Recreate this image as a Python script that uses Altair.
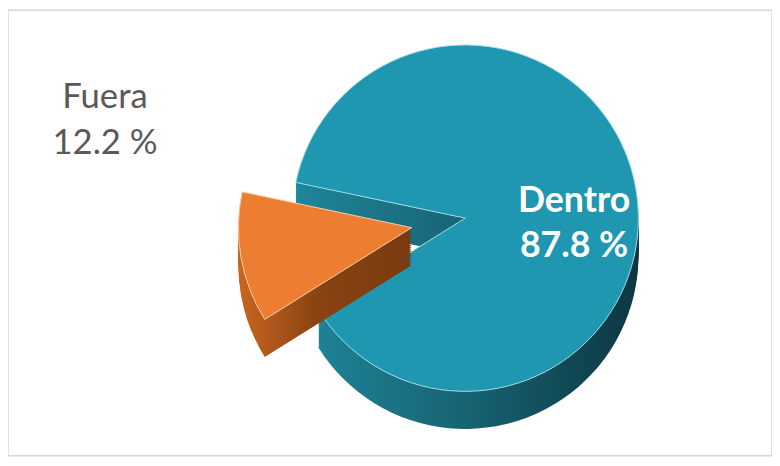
import math
import altair as alt
import pandas as pd

# ---- data ----
categories = ["Fuera", "Dentro"]
values = [12.2, 87.8]
stack_order = [0, 1]

df = pd.DataFrame({"cat": categories, "val": values, "idx": stack_order})

# ---- layout ----
W, H = 772, 450
CX, CY = 462, 210          # pie centre (view coords)
R = 175                    # radius
DEPTH = 38                 # thickness of the "3D" side
START = math.radians(238)  # where the first slice starts (clockwise from top)
EXPLODE = 55               # pull-out distance of the Fuera slice

total = sum(values)
mid_fuera = START + (values[0] / total) * math.pi
FX = CX + EXPLODE * math.sin(mid_fuera)
FY = CY - EXPLODE * math.cos(mid_fuera)

theta = alt.Theta("val:Q", stack=True,
                  scale=alt.Scale(range=[START, START + 2 * math.pi]))
base = alt.Chart(df).encode(theta=theta, order=alt.Order("idx:Q", sort="ascending"))


def only(cat):
    return alt.condition(f"datum.cat == '{cat}'", alt.value(1), alt.value(0))


teal_side = alt.LinearGradient(
    gradient="linear", x1=0, x2=1, y1=0, y2=0,
    stops=[alt.GradientStop(color="#1f869b", offset=0),
           alt.GradientStop(color="#176372", offset=0.5),
           alt.GradientStop(color="#0d3642", offset=1)])
orange_side = alt.LinearGradient(
    gradient="linear", x1=0, x2=1, y1=0, y2=0,
    stops=[alt.GradientStop(color="#c96620", offset=0),
           alt.GradientStop(color="#8a4312", offset=0.45),
           alt.GradientStop(color="#7a3a10", offset=1)])

layers = []
# Dentro side
for k in range(DEPTH, 0, -2):
    layers.append(base.mark_arc(radius=R, fill=teal_side).encode(
        x=alt.value(CX), y=alt.value(CY + k), opacity=only("Dentro")))
# Dentro top
layers.append(base.mark_arc(radius=R, fill="#1f97b0", stroke="#a9dde9", strokeWidth=1).encode(
    x=alt.value(CX), y=alt.value(CY), opacity=only("Dentro")))
# Fuera side
for k in range(DEPTH, 0, -2):
    layers.append(base.mark_arc(radius=R, fill=orange_side).encode(
        x=alt.value(FX), y=alt.value(FY + k), opacity=only("Fuera")))
# Fuera top
layers.append(base.mark_arc(radius=R, fill="#ed7d31", stroke="#f9cfa8", strokeWidth=1).encode(
    x=alt.value(FX), y=alt.value(FY), opacity=only("Fuera")))

label_expr = "datum.cat + '\\n' + format(datum.val, '.1f') + ' %'"

fuera_label = alt.Chart(df).transform_filter("datum.cat == 'Fuera'").transform_calculate(
    label=label_expr).mark_text(
    font="Lato", fontSize=35, color="#595959", lineBreak="\n", lineHeight=46,
    align="center", baseline="middle").encode(
    x=alt.value(98), y=alt.value(88), text="label:N")

dentro_label = alt.Chart(df).transform_filter("datum.cat == 'Dentro'").transform_calculate(
    label=label_expr).mark_text(
    font="Lato", fontSize=36, fontWeight="bold", color="white", lineBreak="\n",
    lineHeight=45, align="center", baseline="middle").encode(
    x=alt.value(572), y=alt.value(193), text="label:N")

layers += [fuera_label, dentro_label]

chart = alt.layer(*layers).properties(
    width=W, height=H, padding=0, autosize="none", background="white"
).configure_view(stroke="#d6d6d6", strokeWidth=1.5)

chart.save("out.html", embed_options={"renderer": "svg", "actions": False})
